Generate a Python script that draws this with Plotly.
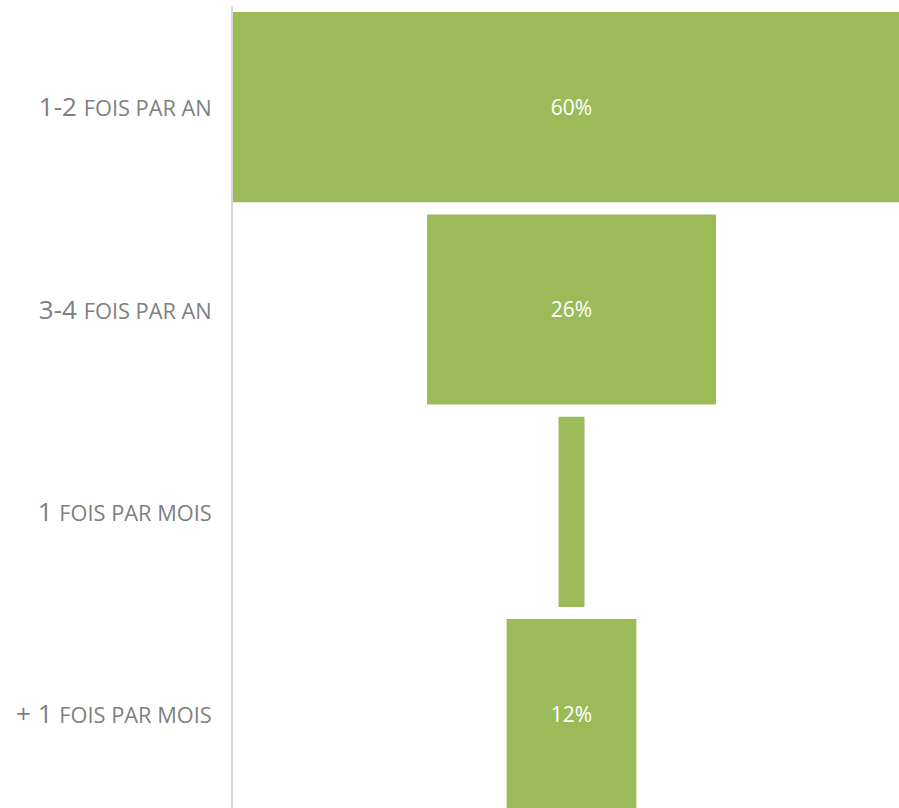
import plotly.graph_objects as go

categories = ["1-2 fois par an", "3-4 fois par an", "1 fois par mois", "+ 1 fois par mois"]
tick_big = ["1-2", "3-4", "1", "+ 1"]
tick_small = ["FOIS PAR AN", "FOIS PAR AN", "FOIS PAR MOIS", "FOIS PAR MOIS"]
values = [60.0, 25.6, 2.3, 11.5]
labels = ["60%", "26%", "", "12%"]

FONT = "Open Sans"
ticktext = [f"{b} <span style='font-size:21.8px'>{s}</span>" for b, s in zip(tick_big, tick_small)]

fig = go.Figure(go.Funnel(
    y=categories,
    x=values,
    text=labels,
    textinfo="text",
    textposition="inside",
    insidetextanchor="middle",
    textfont=dict(color="white", size=21, family=FONT),
    marker=dict(color="#9BBB59", line=dict(width=0)),
    connector=dict(visible=False),
    hoverinfo="skip",
))

fig.update_layout(
    width=899, height=808,
    margin=dict(l=233, r=0, t=6, b=0),
    paper_bgcolor="white", plot_bgcolor="white",
    showlegend=False,
    funnelgap=0.06,
    font=dict(family=FONT, color="#7F7F7F"),
)
fig.update_xaxes(range=[-30, 29.02], visible=False, showgrid=False, zeroline=False)
fig.update_yaxes(
    categoryorder="array", categoryarray=categories,
    tickvals=categories, ticktext=ticktext,
    range=[3.464, -0.5], autorange=False,
    showline=True, linecolor="#D9D9D9", linewidth=2,
    showgrid=False, zeroline=False, ticks="",
    ticklabelstandoff=14,
    tickfont=dict(size=26, color="#7F7F7F", family=FONT),
)

fig.write_html(
    "out.html",
    config={"displayModeBar": False},
    post_script="document.body.style.margin='0';document.body.style.overflow='hidden';",
)
